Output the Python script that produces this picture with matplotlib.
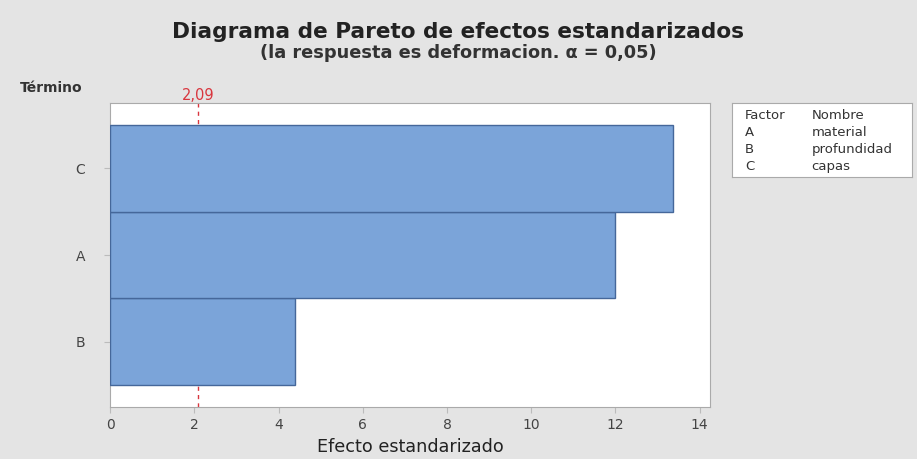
import matplotlib.pyplot as plt
import numpy as np

# datos del diagrama de Pareto
terminos = ['B', 'A', 'C']
efectos = [4.39, 12.0, 13.36]
limite = 2.09
factores = ['A', 'B', 'C']
nombres = ['material', 'profundidad', 'capas']

fondo = '#e4e4e4'
fig = plt.figure(figsize=(9.17, 4.59), dpi=100, facecolor=fondo)
ax = fig.add_axes([0.12, 0.1133, 0.654, 0.662])
ax.set_facecolor('white')

pos = np.arange(len(terminos))
ax.barh(pos, efectos, height=1.0, color='#7ba4d9', edgecolor='#45679a',
        linewidth=1.0, zorder=3)
ax.axvline(limite, color='#d9363e', linestyle=(0, (3, 3)), linewidth=1.0, zorder=2)
ax.text(limite, 2.84, f'{limite:.2f}'.replace('.', ','), color='#d9363e',
        ha='center', va='center', fontsize=10.5)

ax.set_xlim(0, 14.24)
ax.set_ylim(-0.75, 2.75)
ax.set_xticks(range(0, 15, 2))
ax.set_yticks(pos)
ax.set_yticklabels(terminos)
ax.tick_params(colors='#444444', labelsize=10, length=4, color='#bbbbbb')
ax.tick_params(axis='x', pad=4)
ax.tick_params(axis='y', pad=14)
for s in ax.spines.values():
    s.set_color('#aaaaaa')
    s.set_linewidth(0.8)
ax.set_xlabel('Efecto estandarizado', fontsize=12.7, color='#222222', labelpad=4)

fig.text(0.5, 0.93, 'Diagrama de Pareto de efectos estandarizados',
         ha='center', va='center', fontsize=15.6, fontweight='bold', color='#222222')
fig.text(0.5, 0.885, '(la respuesta es deformacion. \u03b1 = 0,05)',
         ha='center', va='center', fontsize=12.8, fontweight='bold', color='#333333')
fig.text(0.022, 0.808, 'Término', fontsize=10, fontweight='bold',
         color='#333333', va='center')

# cuadro de factores
leg = fig.add_axes([0.798, 0.614, 0.197, 0.161])
leg.set_facecolor('white')
leg.set_xticks([])
leg.set_yticks([])
for s in leg.spines.values():
    s.set_color('#aaaaaa')
    s.set_linewidth(0.8)
filas = [('Factor', 'Nombre')] + list(zip(factores, nombres))
for i, (f, n) in enumerate(filas):
    y = 0.84 - i * 0.23
    leg.text(0.072, y, f, fontsize=9.5, va='center', color='#333333')
    leg.text(0.442, y, n, fontsize=9.5, va='center', color='#333333')

fig.savefig('out.png', dpi=100, facecolor=fondo)
